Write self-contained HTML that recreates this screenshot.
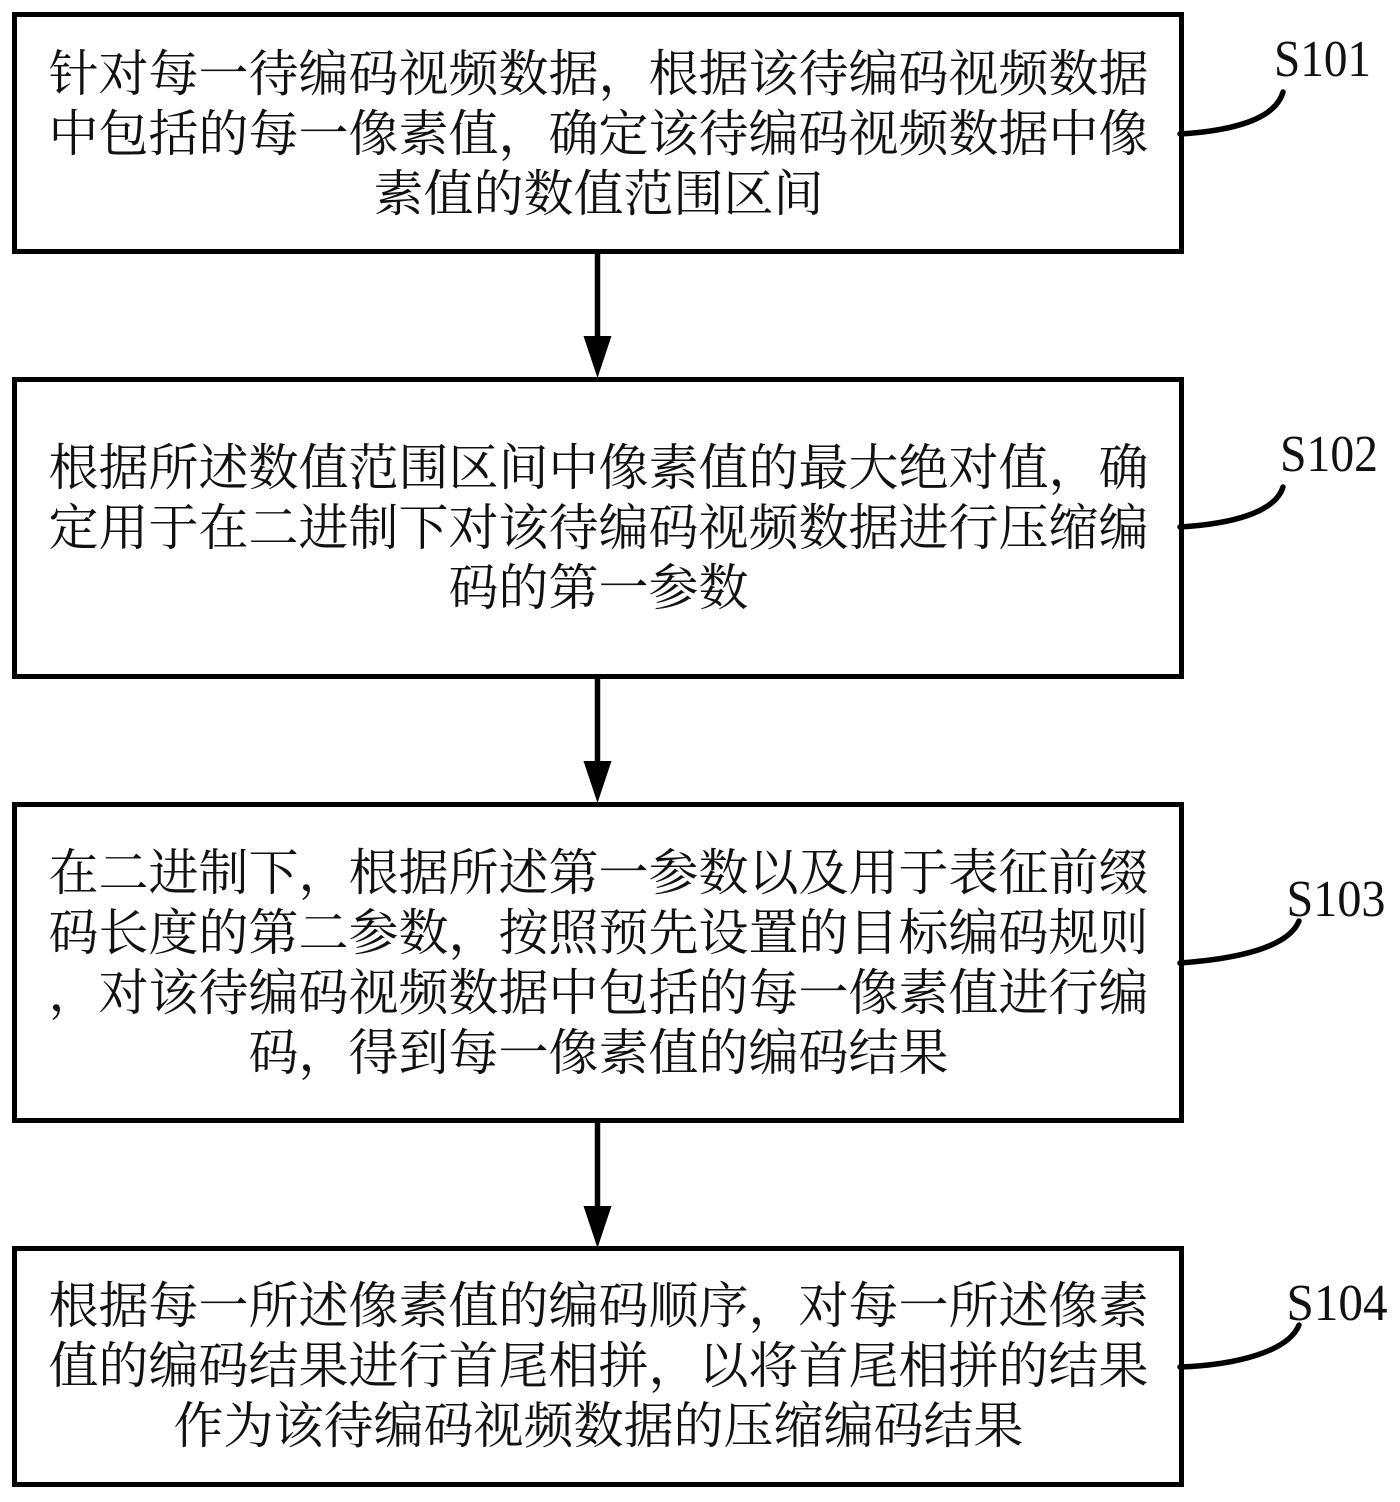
<!DOCTYPE html>
<html lang="zh">
<head>
<meta charset="utf-8">
<style>
html,body{margin:0;padding:0;background:#fff;width:1400px;height:1502px;overflow:hidden}
svg{display:block}
.c{font-family:"Liberation Serif","Noto Serif CJK SC",serif;font-size:50px;fill:#111}
.l{font-family:"Liberation Serif",serif;font-size:52px;fill:#111}
.b{fill:none;stroke:#000;stroke-width:5}
.a{stroke:#000;stroke-width:5.5;fill:none}
.q{stroke:#000;stroke-width:5.5;fill:none;stroke-linecap:round}
</style>
</head>
<body>
<svg width="1400" height="1502" viewBox="0 0 1400 1502" xmlns="http://www.w3.org/2000/svg">
<rect class="b" x="14.5" y="14.5" width="1167" height="237"/>
<rect class="b" x="14.5" y="379.5" width="1167" height="297"/>
<rect class="b" x="14.5" y="804.5" width="1167" height="316"/>
<rect class="b" x="14.5" y="1248.5" width="1167" height="236"/>

<line class="a" x1="597.5" y1="252" x2="597.5" y2="340"/>
<polygon points="583.5,336 611.5,336 597.5,378"/>
<line class="a" x1="597.5" y1="677" x2="597.5" y2="765"/>
<polygon points="583.5,761 611.5,761 597.5,803"/>
<line class="a" x1="597.5" y1="1121" x2="597.5" y2="1210"/>
<polygon points="583.5,1206 611.5,1206 597.5,1248"/>

<path class="q" d="M1180 134 C1230 131 1275 120 1283 92"/>
<path class="q" d="M1180 527 C1230 524 1275 513 1283 487"/>
<path class="q" d="M1180 963 C1235 959 1288 948 1299 921"/>
<path class="q" d="M1180 1367 C1235 1365 1288 1352 1299 1325"/>

<text class="l" x="1274" y="76" textLength="97" lengthAdjust="spacingAndGlyphs">S101</text>
<text class="l" x="1280" y="471" textLength="98" lengthAdjust="spacingAndGlyphs">S102</text>
<text class="l" x="1286.5" y="916" textLength="99" lengthAdjust="spacingAndGlyphs">S103</text>
<text class="l" x="1286.5" y="1320" textLength="101" lengthAdjust="spacingAndGlyphs">S104</text>

<g transform="translate(-1.5,0)">
<text class="c" x="50" y="91">针对每一待编码视频数据，根据该待编码视频数据</text>
<text class="c" x="50" y="151">中包括的每一像素值，确定该待编码视频数据中像</text>
<text class="c" x="375" y="211">素值的数值范围区间</text>

<text class="c" x="50" y="485">根据所述数值范围区间中像素值的最大绝对值，确</text>
<text class="c" x="50" y="545">定用于在二进制下对该待编码视频数据进行压缩编</text>
<text class="c" x="450" y="605">码的第一参数</text>

<text class="c" x="50" y="890">在二进制下，根据所述第一参数以及用于表征前缀</text>
<text class="c" x="50" y="950">码长度的第二参数，按照预先设置的目标编码规则</text>
<text class="c" x="50" y="1010">，对该待编码视频数据中包括的每一像素值进行编</text>
<text class="c" x="250" y="1070">码，得到每一像素值的编码结果</text>

<text class="c" x="50" y="1323">根据每一所述像素值的编码顺序，对每一所述像素</text>
<text class="c" x="50" y="1383">值的编码结果进行首尾相拼，以将首尾相拼的结果</text>
<text class="c" x="175" y="1443">作为该待编码视频数据的压缩编码结果</text>
</g>
</svg>
</body>
</html>
